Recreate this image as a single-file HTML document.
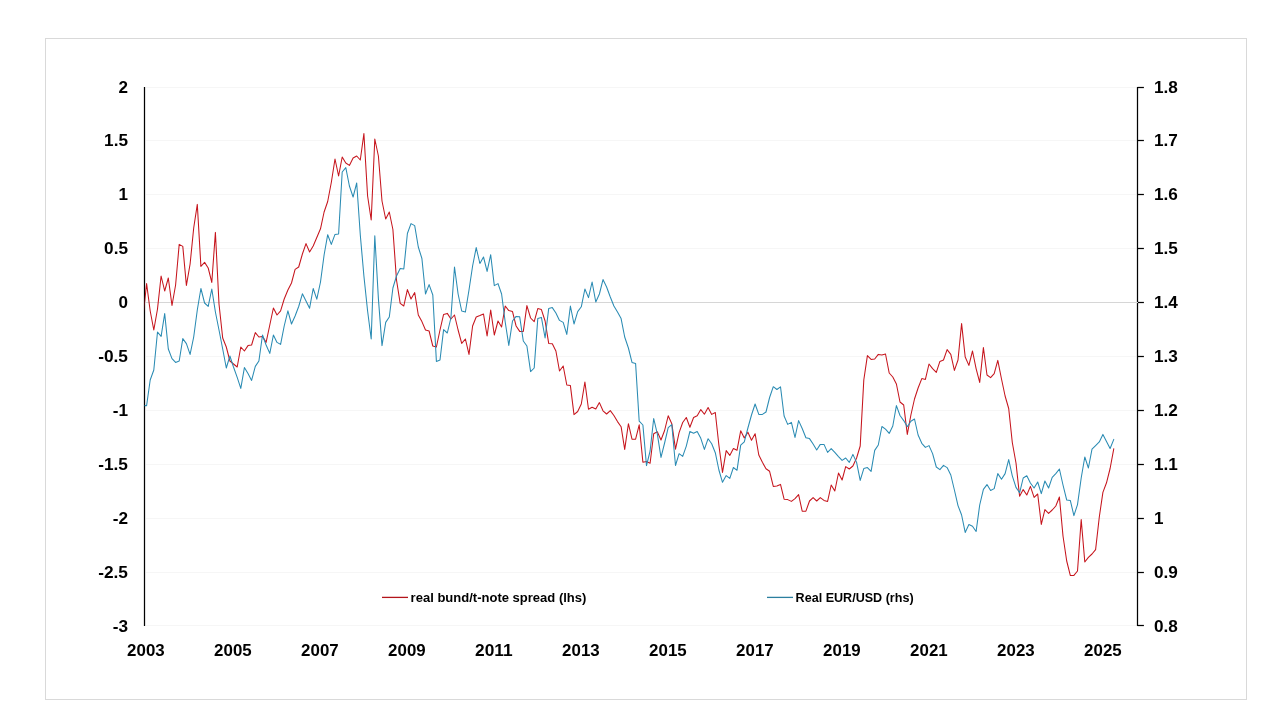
<!DOCTYPE html>
<html><head><meta charset="utf-8"><title>chart</title>
<style>
html,body{margin:0;padding:0;background:#fff;}
body{width:1280px;height:720px;overflow:hidden;font-family:"Liberation Sans",sans-serif;}
svg{display:block;will-change:transform;opacity:0.999}
text{font-family:"Liberation Sans",sans-serif;font-weight:bold;fill:#000}
.ax{font-size:15.6px}
.lg{font-size:13.4px}
</style></head><body>
<svg width="1280" height="720" viewBox="0 0 1280 720">
<rect x="45.5" y="38.5" width="1201" height="661" fill="#fff" stroke="#d9d9d9" stroke-width="1"/>
<line x1="146" x2="1136" y1="87.5" y2="87.5" stroke="#f6f6f6" stroke-width="1"/>
<line x1="146" x2="1136" y1="140.5" y2="140.5" stroke="#f6f6f6" stroke-width="1"/>
<line x1="146" x2="1136" y1="194.5" y2="194.5" stroke="#f6f6f6" stroke-width="1"/>
<line x1="146" x2="1136" y1="248.5" y2="248.5" stroke="#f6f6f6" stroke-width="1"/>
<line x1="146" x2="1136" y1="356.5" y2="356.5" stroke="#f6f6f6" stroke-width="1"/>
<line x1="146" x2="1136" y1="410.5" y2="410.5" stroke="#f6f6f6" stroke-width="1"/>
<line x1="146" x2="1136" y1="464.5" y2="464.5" stroke="#f6f6f6" stroke-width="1"/>
<line x1="146" x2="1136" y1="518.5" y2="518.5" stroke="#f6f6f6" stroke-width="1"/>
<line x1="146" x2="1136" y1="572.5" y2="572.5" stroke="#f6f6f6" stroke-width="1"/>
<line x1="146" x2="1136" y1="625.5" y2="625.5" stroke="#f6f6f6" stroke-width="1"/>
<line x1="144.5" x2="144.5" y1="86.9" y2="626.1" stroke="#000" stroke-width="1.25"/>
<line x1="1137.5" x2="1137.5" y1="86.9" y2="626.1" stroke="#000" stroke-width="1.25"/>
<line x1="1137.5" x2="1143.9" y1="87.5" y2="87.5" stroke="#000" stroke-width="1.25"/>
<line x1="1137.5" x2="1143.9" y1="140.5" y2="140.5" stroke="#000" stroke-width="1.25"/>
<line x1="1137.5" x2="1143.9" y1="194.5" y2="194.5" stroke="#000" stroke-width="1.25"/>
<line x1="1137.5" x2="1143.9" y1="248.5" y2="248.5" stroke="#000" stroke-width="1.25"/>
<line x1="1137.5" x2="1143.9" y1="302.5" y2="302.5" stroke="#000" stroke-width="1.25"/>
<line x1="1137.5" x2="1143.9" y1="356.5" y2="356.5" stroke="#000" stroke-width="1.25"/>
<line x1="1137.5" x2="1143.9" y1="410.5" y2="410.5" stroke="#000" stroke-width="1.25"/>
<line x1="1137.5" x2="1143.9" y1="464.5" y2="464.5" stroke="#000" stroke-width="1.25"/>
<line x1="1137.5" x2="1143.9" y1="518.5" y2="518.5" stroke="#000" stroke-width="1.25"/>
<line x1="1137.5" x2="1143.9" y1="572.5" y2="572.5" stroke="#000" stroke-width="1.25"/>
<line x1="1137.5" x2="1143.9" y1="625.5" y2="625.5" stroke="#000" stroke-width="1.25"/>
<line x1="145.2" x2="1138" y1="302.5" y2="302.5" stroke="#d6d6d6" stroke-width="1.2"/>
<clipPath id="c"><rect x="144.6" y="80" width="993" height="550"/></clipPath>
<g clip-path="url(#c)" fill="none" stroke-linejoin="round" stroke-linecap="round"><polyline points="143.0,317.0 146.6,283.6 150.2,311.0 153.8,330.0 157.5,309.0 161.1,276.0 164.7,291.0 168.3,278.0 172.0,305.5 175.6,285.0 179.2,244.4 182.8,246.4 186.4,285.4 190.1,264.0 193.7,228.0 197.3,204.4 200.9,266.4 204.6,262.4 208.2,268.0 211.8,282.4 215.4,232.4 219.0,304.0 222.7,338.0 226.3,347.0 229.9,361.0 233.5,364.0 237.2,367.0 240.8,347.0 244.4,351.0 248.0,345.6 251.6,345.0 255.3,332.6 258.9,337.0 262.5,336.6 266.1,342.4 269.8,325.0 273.4,308.0 277.0,315.0 280.6,310.8 284.2,299.0 287.9,290.0 291.5,283.0 295.1,269.4 298.7,267.0 302.4,254.0 306.0,243.6 309.6,252.0 313.2,246.0 316.8,237.5 320.5,228.8 324.1,212.0 327.7,201.5 331.3,182.5 335.0,159.0 338.6,176.0 342.2,157.0 345.8,163.0 349.4,165.4 353.1,158.0 356.7,156.0 360.3,160.0 363.9,133.6 367.6,196.0 371.2,220.0 374.8,139.0 378.4,156.0 382.0,201.0 385.7,219.0 389.3,212.0 392.9,229.5 396.5,280.0 400.2,303.4 403.8,306.0 407.4,289.6 411.0,299.0 414.7,292.6 418.3,315.0 421.9,321.6 425.5,330.0 429.1,331.0 432.8,346.0 436.4,347.0 440.0,330.0 443.6,314.4 447.3,313.4 450.9,319.0 454.5,315.0 458.1,330.0 461.7,343.4 465.4,339.0 469.0,354.4 472.6,326.0 476.2,317.0 479.9,315.6 483.5,314.0 487.1,336.0 490.7,310.0 494.3,335.0 498.0,321.0 501.6,327.0 505.2,306.0 508.8,310.6 512.5,311.6 516.1,326.0 519.7,331.4 523.3,331.4 526.9,305.6 530.6,318.0 534.2,321.6 537.8,308.6 541.4,309.6 545.1,321.0 548.7,343.4 552.3,343.8 555.9,351.0 559.5,371.0 563.2,366.0 566.8,385.0 570.4,385.6 574.0,414.6 577.7,411.5 581.3,404.0 584.9,382.0 588.5,409.2 592.1,407.2 595.8,409.0 599.4,402.6 603.0,410.8 606.6,414.0 610.3,410.6 613.9,415.5 617.5,421.6 621.1,426.7 624.7,449.4 628.4,423.7 632.0,439.2 635.6,439.2 639.2,424.8 642.9,462.2 646.5,461.5 650.1,463.2 653.7,433.7 657.3,431.8 661.0,440.0 664.6,430.5 668.2,415.8 671.8,423.7 675.5,449.2 679.1,432.7 682.7,422.5 686.3,417.5 689.9,427.3 693.6,417.5 697.2,415.8 700.8,409.6 704.4,414.2 708.1,407.5 711.7,414.4 715.3,412.5 718.9,445.2 722.5,472.4 726.2,450.6 729.8,455.4 733.4,448.5 737.0,450.3 740.7,430.8 744.3,437.9 747.9,432.3 751.5,440.3 755.1,433.7 758.8,455.0 762.4,462.3 766.0,468.7 769.6,471.3 773.3,486.4 776.9,486.0 780.5,484.4 784.1,499.2 787.7,499.6 791.4,501.4 795.0,498.6 798.6,494.6 802.2,511.2 805.9,511.2 809.5,501.0 813.1,497.6 816.7,501.0 820.3,497.6 824.0,500.4 827.6,501.4 831.2,485.0 834.8,491.0 838.5,473.0 842.1,480.0 845.7,466.6 849.3,469.0 852.9,466.0 856.6,458.0 860.2,446.0 863.8,380.0 867.4,355.6 871.1,359.4 874.7,359.0 878.3,354.4 881.9,355.0 885.5,354.0 889.2,373.0 892.8,377.0 896.4,384.0 900.0,402.0 903.7,405.0 907.3,434.4 910.9,415.0 914.5,399.0 918.1,388.0 921.8,378.6 925.4,379.4 929.0,364.0 932.6,368.6 936.3,372.4 939.9,361.4 943.5,360.0 947.1,349.6 950.8,354.4 954.4,370.4 958.0,360.0 961.6,323.6 965.2,357.0 968.9,365.4 972.5,351.0 976.1,368.6 979.7,382.4 983.4,347.6 987.0,375.0 990.6,377.6 994.2,373.6 997.8,360.4 1001.5,379.0 1005.1,396.0 1008.7,408.5 1012.3,442.5 1016.0,463.0 1019.6,496.3 1023.2,489.6 1026.8,495.0 1030.4,486.4 1034.1,497.4 1037.7,494.0 1041.3,524.4 1044.9,509.6 1048.6,513.4 1052.2,510.0 1055.8,506.0 1059.4,497.0 1063.0,536.0 1066.7,561.0 1070.3,575.4 1073.9,575.4 1077.5,571.0 1081.2,519.6 1084.8,562.0 1088.4,557.4 1092.0,554.0 1095.6,549.6 1099.3,517.0 1102.9,492.4 1106.5,482.8 1110.1,468.5 1113.8,448.7" stroke="#c6151d" stroke-width="1.05"/><polyline points="143.0,405.6 146.6,405.6 150.2,380.0 153.8,370.0 157.5,332.0 161.1,336.4 164.7,313.6 168.3,349.0 172.0,358.6 175.6,362.4 179.2,361.0 182.8,338.6 186.4,343.6 190.1,354.4 193.7,337.0 197.3,310.0 200.9,288.5 204.6,303.0 208.2,306.4 211.8,289.0 215.4,312.0 219.0,330.0 222.7,349.0 226.3,368.0 229.9,356.0 233.5,367.0 237.2,377.4 240.8,388.4 244.4,367.6 248.0,373.6 251.6,380.4 255.3,366.4 258.9,361.0 262.5,335.0 266.1,345.0 269.8,353.4 273.4,335.0 277.0,342.4 280.6,344.4 284.2,326.0 287.9,310.8 291.5,324.0 295.1,316.0 298.7,306.5 302.4,293.8 306.0,301.0 309.6,308.2 313.2,288.5 316.8,299.2 320.5,282.0 324.1,255.0 327.7,234.7 331.3,244.4 335.0,234.4 338.6,234.0 342.2,172.0 345.8,167.6 349.4,186.0 353.1,197.0 356.7,183.0 360.3,235.0 363.9,276.0 367.6,311.0 371.2,339.0 374.8,235.7 378.4,298.6 382.0,345.6 385.7,322.4 389.3,317.0 392.9,288.0 396.5,276.0 400.2,268.4 403.8,269.0 407.4,233.5 411.0,223.6 414.7,225.6 418.3,247.0 421.9,258.5 425.5,294.0 429.1,284.6 432.8,295.0 436.4,361.4 440.0,360.0 443.6,329.6 447.3,333.0 450.9,318.0 454.5,267.0 458.1,294.0 461.7,311.0 465.4,312.0 469.0,290.0 472.6,266.0 476.2,247.6 479.9,263.5 483.5,257.0 487.1,271.4 490.7,254.7 494.3,285.6 498.0,283.6 501.6,294.0 505.2,322.0 508.8,345.4 512.5,321.0 516.1,316.4 519.7,316.8 523.3,341.0 526.9,346.0 530.6,371.6 534.2,368.0 537.8,318.4 541.4,317.4 545.1,338.0 548.7,308.6 552.3,307.6 555.9,313.0 559.5,320.4 563.2,322.4 566.8,334.4 570.4,306.0 574.0,324.0 577.7,311.6 581.3,306.8 584.9,289.0 588.5,297.6 592.1,282.0 595.8,302.0 599.4,294.0 603.0,279.6 606.6,287.0 610.3,297.0 613.9,306.0 617.5,312.0 621.1,318.6 624.7,337.0 628.4,348.0 632.0,362.4 635.6,363.6 639.2,421.2 642.9,425.0 646.5,465.6 650.1,451.0 653.7,418.5 657.3,433.8 661.0,457.4 664.6,443.0 668.2,427.7 671.8,424.6 675.5,465.5 679.1,453.7 682.7,456.4 686.3,446.1 689.9,431.5 693.6,433.2 697.2,431.5 700.8,438.3 704.4,449.4 708.1,438.7 711.7,443.7 715.3,452.7 718.9,470.0 722.5,482.3 726.2,475.6 729.8,478.4 733.4,467.5 737.0,470.3 740.7,445.1 744.3,441.8 747.9,428.0 751.5,415.0 755.1,404.0 758.8,414.4 762.4,414.4 766.0,412.0 769.6,397.5 773.3,386.7 776.9,389.5 780.5,386.8 784.1,416.0 787.7,424.4 791.4,422.4 795.0,437.5 798.6,420.6 802.2,428.5 805.9,437.7 809.5,438.6 813.1,444.0 816.7,450.0 820.3,444.4 824.0,444.4 827.6,452.4 831.2,448.6 834.8,452.4 838.5,456.6 842.1,460.4 845.7,458.0 849.3,462.4 852.9,454.4 856.6,462.4 860.2,480.4 863.8,468.6 867.4,467.6 871.1,471.4 874.7,450.4 878.3,445.0 881.9,426.5 885.5,429.2 889.2,433.4 892.8,426.0 896.4,405.6 900.0,415.5 903.7,420.6 907.3,426.8 910.9,421.3 914.5,419.0 918.1,435.0 921.8,443.3 925.4,447.4 929.0,445.6 932.6,453.6 936.3,467.0 939.9,469.6 943.5,465.4 947.1,467.6 950.8,475.0 954.4,490.0 958.0,505.6 961.6,515.0 965.2,532.4 968.9,524.6 972.5,526.2 976.1,531.5 979.7,505.0 983.4,489.4 987.0,484.6 990.6,490.5 994.2,488.6 997.8,473.6 1001.5,479.2 1005.1,473.6 1008.7,459.6 1012.3,475.8 1016.0,487.4 1019.6,492.8 1023.2,478.0 1026.8,475.8 1030.4,483.0 1034.1,488.0 1037.7,482.0 1041.3,493.6 1044.9,481.0 1048.6,488.0 1052.2,477.4 1055.8,473.6 1059.4,469.0 1063.0,485.0 1066.7,500.0 1070.3,500.4 1073.9,515.6 1077.5,504.6 1081.2,478.0 1084.8,457.0 1088.4,468.0 1092.0,449.2 1095.6,445.6 1099.3,441.9 1102.9,434.4 1106.5,441.5 1110.1,448.5 1113.8,439.4" stroke="#2a8bb3" stroke-width="1.05"/></g>
<text x="118.5" y="93.1" textLength="9.5" lengthAdjust="spacingAndGlyphs" class="ax">2</text>
<text x="1154.0" y="93.1" textLength="23.9" lengthAdjust="spacingAndGlyphs" class="ax">1.8</text>
<text x="104.1" y="146.1" textLength="23.9" lengthAdjust="spacingAndGlyphs" class="ax">1.5</text>
<text x="1154.0" y="146.1" textLength="23.9" lengthAdjust="spacingAndGlyphs" class="ax">1.7</text>
<text x="118.5" y="200.1" textLength="9.5" lengthAdjust="spacingAndGlyphs" class="ax">1</text>
<text x="1154.0" y="200.1" textLength="23.9" lengthAdjust="spacingAndGlyphs" class="ax">1.6</text>
<text x="104.1" y="254.1" textLength="23.9" lengthAdjust="spacingAndGlyphs" class="ax">0.5</text>
<text x="1154.0" y="254.1" textLength="23.9" lengthAdjust="spacingAndGlyphs" class="ax">1.5</text>
<text x="118.5" y="308.1" textLength="9.5" lengthAdjust="spacingAndGlyphs" class="ax">0</text>
<text x="1154.0" y="308.1" textLength="23.9" lengthAdjust="spacingAndGlyphs" class="ax">1.4</text>
<text x="98.2" y="362.1" textLength="29.8" lengthAdjust="spacingAndGlyphs" class="ax">-0.5</text>
<text x="1154.0" y="362.1" textLength="23.9" lengthAdjust="spacingAndGlyphs" class="ax">1.3</text>
<text x="112.7" y="416.1" textLength="15.3" lengthAdjust="spacingAndGlyphs" class="ax">-1</text>
<text x="1154.0" y="416.1" textLength="23.9" lengthAdjust="spacingAndGlyphs" class="ax">1.2</text>
<text x="98.2" y="470.1" textLength="29.8" lengthAdjust="spacingAndGlyphs" class="ax">-1.5</text>
<text x="1154.0" y="470.1" textLength="23.9" lengthAdjust="spacingAndGlyphs" class="ax">1.1</text>
<text x="112.7" y="524.1" textLength="15.3" lengthAdjust="spacingAndGlyphs" class="ax">-2</text>
<text x="1154.0" y="524.1" textLength="9.5" lengthAdjust="spacingAndGlyphs" class="ax">1</text>
<text x="98.2" y="578.1" textLength="29.8" lengthAdjust="spacingAndGlyphs" class="ax">-2.5</text>
<text x="1154.0" y="578.1" textLength="23.9" lengthAdjust="spacingAndGlyphs" class="ax">0.9</text>
<text x="112.7" y="631.7" textLength="15.3" lengthAdjust="spacingAndGlyphs" class="ax">-3</text>
<text x="1154.0" y="631.7" textLength="23.9" lengthAdjust="spacingAndGlyphs" class="ax">0.8</text>
<text x="127.1" y="655.8" textLength="37.6" lengthAdjust="spacingAndGlyphs" class="ax">2003</text>
<text x="214.1" y="655.8" textLength="37.6" lengthAdjust="spacingAndGlyphs" class="ax">2005</text>
<text x="301.1" y="655.8" textLength="37.6" lengthAdjust="spacingAndGlyphs" class="ax">2007</text>
<text x="388.1" y="655.8" textLength="37.6" lengthAdjust="spacingAndGlyphs" class="ax">2009</text>
<text x="475.1" y="655.8" textLength="37.6" lengthAdjust="spacingAndGlyphs" class="ax">2011</text>
<text x="562.1" y="655.8" textLength="37.6" lengthAdjust="spacingAndGlyphs" class="ax">2013</text>
<text x="649.1" y="655.8" textLength="37.6" lengthAdjust="spacingAndGlyphs" class="ax">2015</text>
<text x="736.1" y="655.8" textLength="37.6" lengthAdjust="spacingAndGlyphs" class="ax">2017</text>
<text x="823.1" y="655.8" textLength="37.6" lengthAdjust="spacingAndGlyphs" class="ax">2019</text>
<text x="910.1" y="655.8" textLength="37.6" lengthAdjust="spacingAndGlyphs" class="ax">2021</text>
<text x="997.1" y="655.8" textLength="37.6" lengthAdjust="spacingAndGlyphs" class="ax">2023</text>
<text x="1084.1" y="655.8" textLength="37.6" lengthAdjust="spacingAndGlyphs" class="ax">2025</text>
<line x1="382" x2="408" y1="597.4" y2="597.4" stroke="#b3141b" stroke-width="1.3"/>
<text x="410.6" y="601.8" textLength="175.8" lengthAdjust="spacingAndGlyphs" class="lg">real bund/t-note spread (lhs)</text>
<line x1="767" x2="793" y1="597.4" y2="597.4" stroke="#2b7f9f" stroke-width="1.3"/>
<text x="795.6" y="601.8" textLength="118" lengthAdjust="spacingAndGlyphs" class="lg">Real EUR/USD (rhs)</text>
</svg>
</body></html>
